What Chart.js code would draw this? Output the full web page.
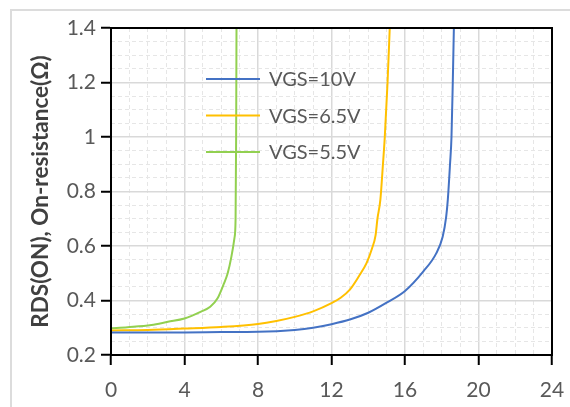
<!DOCTYPE html>
<html>
<head>
<meta charset="utf-8">
<script src="https://cdn.jsdelivr.net/npm/chart.js@4"></script>
<style>
    html, body { margin: 0; padding: 0; background: #fff; }
    #wrap { position: relative; width: 570px; height: 407px; overflow: hidden; }
    #marco { position: absolute; left: 10px; top: 9px; width: 600px; height: 450px; border: 2px solid #dcdcdc; }
    #grafico { position: absolute; left: 0; top: 0; }
</style>
</head>
<body>
<div id="wrap">
    <div id="marco"></div>
    <canvas id="grafico" width="570" height="407"></canvas>
</div>
<script>
// curvas RDS(on) vs ID para cada VGS
const series = ['VGS=10V', 'VGS=6.5V', 'VGS=5.5V'];
const colores = ['#4472C4', '#FFC000', '#92D050'];

const idVgs10 = [0, 2, 4, 6, 8, 10, 11, 12, 13, 14, 15, 16, 17, 17.7, 18.05, 18.24, 18.33, 18.45, 18.53, 18.6, 18.66];
const rdsVgs10 = [0.283, 0.283, 0.283, 0.284, 0.285, 0.292, 0.300, 0.313, 0.330, 0.355, 0.392, 0.435, 0.507, 0.573, 0.634, 0.707, 0.770, 0.900, 1.000, 1.200, 1.400];

const idVgs65 = [0, 2, 4, 6, 8, 9, 10, 11, 12, 12.5, 13, 13.5, 13.9, 14.2, 14.4, 14.5, 14.66, 14.8, 14.9, 15.05, 15.17];
const rdsVgs65 = [0.290, 0.292, 0.297, 0.303, 0.314, 0.325, 0.340, 0.360, 0.390, 0.410, 0.440, 0.490, 0.536, 0.590, 0.640, 0.700, 0.770, 0.900, 1.000, 1.200, 1.400];

const idVgs55 = [0, 0.9, 2.2, 3.1, 4, 4.9, 5.4, 5.8, 6.15, 6.35, 6.55, 6.72, 6.78, 6.81, 6.83];
const rdsVgs55 = [0.298, 0.302, 0.310, 0.322, 0.334, 0.359, 0.377, 0.408, 0.463, 0.500, 0.560, 0.630, 0.700, 1.000, 1.400];

const ejeX = { min: 0, max: 24, paso: 4, pasoMenor: 1 };
const ejeY = { min: 0.2, max: 1.4, paso: 0.2, pasoMenor: 0.05 };
const tituloY = 'RDS(ON), On-resistance(Ω)';

const puntos = (xs, ys) => xs.map((x, i) => ({ x: x, y: ys[i] }));
const curvas = [puntos(idVgs10, rdsVgs10), puntos(idVgs65, rdsVgs65), puntos(idVgs55, rdsVgs55)];

const gris = '#595959';
const fuenteTicks = { family: 'Lato', size: 21 };

const esMayorX = v => Math.abs(v / ejeX.paso - Math.round(v / ejeX.paso)) < 1e-6;
const esMayorY = v => Math.abs((v - ejeY.min) / ejeY.paso - Math.round((v - ejeY.min) / ejeY.paso)) < 1e-6;

// marco negro del area de trazado
const marcoArea = {
    id: 'marcoArea',
    afterDraw(chart) {
        const { ctx, chartArea: a } = chart;
        ctx.save();
        ctx.strokeStyle = '#000';
        ctx.lineWidth = 2;
        ctx.strokeRect(a.left, a.top, a.right - a.left, a.bottom - a.top);
        ctx.restore();
    }
};

// leyenda dentro del grafico
const leyenda = {
    id: 'leyendaInterna',
    afterDraw(chart) {
        const { ctx, chartArea: a } = chart;
        const x0 = a.left + 95, y0 = a.top + 51, dy = 36.5;
        ctx.save();
        ctx.font = '20px Lato';
        ctx.textBaseline = 'middle';
        chart.data.datasets.forEach((ds, i) => {
            const y = y0 + i * dy;
            ctx.strokeStyle = ds.borderColor;
            ctx.lineWidth = 2;
            ctx.beginPath();
            ctx.moveTo(x0, y);
            ctx.lineTo(x0 + 54, y);
            ctx.stroke();
            ctx.fillStyle = gris;
            ctx.fillText(ds.label, x0 + 63, y + 1);
        });
        ctx.restore();
    }
};

new Chart(document.getElementById('grafico'), {
    type: 'scatter',
    data: {
        datasets: series.map((s, i) => ({
            label: s,
            data: curvas[i],
            showLine: true,
            borderColor: colores[i],
            backgroundColor: colores[i],
            borderWidth: 2,
            pointRadius: 0,
            cubicInterpolationMode: 'monotone'
        }))
    },
    options: {
        responsive: false,
        animation: false,
        devicePixelRatio: 1,
        layout: { padding: { top: 28, right: 18, left: 0, bottom: 0 } },
        plugins: { legend: { display: false }, tooltip: { enabled: false } },
        scales: {
            x: {
                type: 'linear', position: 'bottom',
                min: ejeX.min, max: ejeX.max,
                ticks: { stepSize: ejeX.paso, color: gris, font: fuenteTicks, padding: 13 },
                grid: { color: '#d9d9d9', lineWidth: 1.5, tickColor: '#000', tickLength: 10, tickWidth: 2 },
                border: { color: '#000', width: 2 },
                afterFit: s => { s.height = 52; s.paddingLeft = 0; s.paddingRight = 0; }
            },
            xm: {
                type: 'linear', position: 'bottom',
                min: ejeX.min, max: ejeX.max,
                ticks: { stepSize: ejeX.pasoMenor, display: false },
                grid: {
                    color: c => esMayorX(c.tick.value) ? 'rgba(0,0,0,0)' : '#e6e6e6',
                    lineWidth: 1, tickColor: '#000', tickLength: 6, tickWidth: 1.5, tickBorderDash: []
                },
                border: { display: false, dash: [4, 3] },
                afterFit: s => { s.height = 0; s.paddingLeft = 0; s.paddingRight = 0; }
            },
            y: {
                type: 'linear', position: 'left',
                min: ejeY.min, max: ejeY.max,
                ticks: {
                    stepSize: ejeY.paso, color: gris, font: fuenteTicks, padding: 5,
                    callback: v => String(Math.round(v * 10) / 10)
                },
                grid: { color: '#d9d9d9', lineWidth: 1.5, tickColor: '#000', tickLength: 10, tickWidth: 2 },
                border: { color: '#000', width: 2 },
                title: {
                    display: true, text: tituloY, color: '#404040',
                    font: { family: 'Lato', size: 22.5, weight: 'bold' },
                    padding: { top: 27, bottom: 0 }
                },
                afterFit: s => { s.width = 111; s.paddingTop = 0; s.paddingBottom = 0; }
            },
            ym: {
                type: 'linear', position: 'left',
                min: ejeY.min, max: ejeY.max,
                ticks: { stepSize: ejeY.pasoMenor, display: false },
                grid: {
                    color: c => esMayorY(c.tick.value) ? 'rgba(0,0,0,0)' : '#e6e6e6',
                    lineWidth: 1, tickColor: '#000', tickLength: 6, tickWidth: 1.5, tickBorderDash: []
                },
                border: { display: false, dash: [4, 3] },
                afterFit: s => { s.width = 0; s.paddingTop = 0; s.paddingBottom = 0; }
            }
        }
    },
    plugins: [marcoArea, leyenda]
});
</script>
</body>
</html>
